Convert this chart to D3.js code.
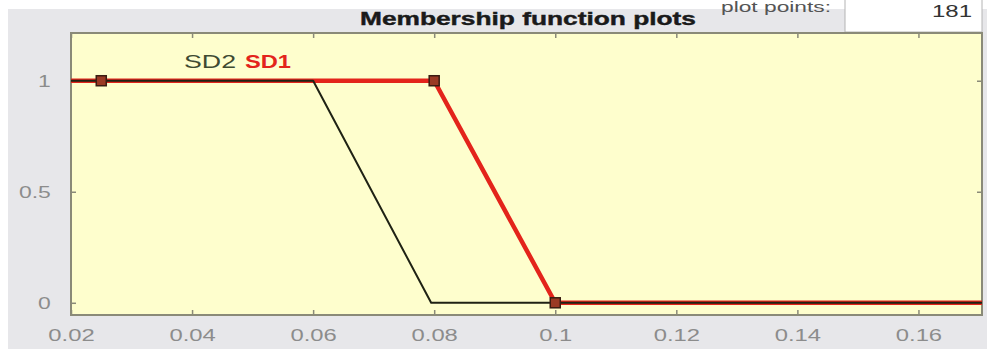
<!DOCTYPE html>
<html>
<head>
<meta charset="utf-8">
<script src="https://cdn.jsdelivr.net/npm/d3@7"></script>
<style>
  html, body { margin: 0; padding: 0; background: #ffffff; }
  svg { display: block; }
  text { font-family: "Liberation Sans", Arial, sans-serif; }
</style>
</head>
<body>
<svg id="chart" width="987" height="349"></svg>
<script>
// Membership functions of the input variable (breakpoints of each trapezoid)
const mfNames = ["SD2", "SD1"];
const sd1X = [0.02, 0.08, 0.1, 0.1705];
const sd1Y = [1, 1, 0, 0];
const sd2X = [0.02, 0.06, 0.0795, 0.1705];
const sd2Y = [1, 1, 0, 0];
// Editable vertices of the selected function (SD1)
const handleX = [0.025, 0.08, 0.1];
const handleY = [1, 1, 0];
// Axis ticks
const xTicks = [0.02, 0.04, 0.06, 0.08, 0.1, 0.12, 0.14, 0.16];
const xTickLabels = ["0.02", "0.04", "0.06", "0.08", "0.1", "0.12", "0.14", "0.16"];
const yTicks = [0, 0.5, 1];
const yTickLabels = ["0", "0.5", "1"];
const plotPoints = 181;

const svg = d3.select("#chart");
const W = 987, H = 349;
const plot = { left: 71, right: 982, top: 33, bottom: 315 };

const x = d3.scaleLinear().domain([0.02, 0.1705]).range([plot.left, plot.right]);
const y = d3.scaleLinear().domain([-0.055, 1.215]).range([plot.bottom, plot.top]);

// figure background
svg.append("rect").attr("x", 8).attr("y", 9).attr("width", W - 8).attr("height", H - 9)
  .attr("fill", "#e7e7ea");

// "plot points" field
svg.append("text").attr("x", 776).attr("y", 12).attr("text-anchor", "middle")
  .attr("font-size", 14).attr("fill", "#555")
  .attr("textLength", 110).attr("lengthAdjust", "spacingAndGlyphs")
  .text("plot points:");
svg.append("rect").attr("x", 845).attr("y", -2).attr("width", 137).attr("height", 34)
  .attr("fill", "#ffffff").attr("stroke", "#b4b4b4").attr("stroke-width", 1);
svg.append("text").attr("x", 972).attr("y", 17).attr("text-anchor", "end")
  .attr("font-size", 17).attr("fill", "#333")
  .attr("textLength", 40).attr("lengthAdjust", "spacingAndGlyphs")
  .text(plotPoints);

// title
svg.append("text").attr("x", 528).attr("y", 25).attr("text-anchor", "middle")
  .attr("font-size", 18).attr("font-weight", "bold").attr("fill", "#1a1a1a")
  .attr("stroke", "#1a1a1a").attr("stroke-width", 0.4)
  .attr("textLength", 336).attr("lengthAdjust", "spacingAndGlyphs")
  .text("Membership function plots");

// plot area
svg.append("rect").attr("x", plot.left).attr("y", plot.top)
  .attr("width", plot.right - plot.left).attr("height", plot.bottom - plot.top)
  .attr("fill", "#fefecd");

const g = svg.append("g");
const tickLen = 5;
const axisColor = "#8a8a78";
const labelColor = "#8c8c8c";

// bottom axis (ticks inward)
const bottomAxis = g.append("g").attr("transform", `translate(0,${plot.bottom})`)
  .call(d3.axisBottom(x).tickValues(xTicks).tickSize(-tickLen).tickPadding(14)
    .tickFormat((d, i) => xTickLabels[i]));
bottomAxis.selectAll("text").attr("font-size", 17).attr("fill", labelColor)
  .attr("font-family", "'Liberation Sans', Arial, sans-serif")
  .attr("dy", "0.71em")
  .attr("transform", "scale(1.4,1)");
// top axis
g.append("g").attr("transform", `translate(0,${plot.top})`)
  .call(d3.axisTop(x).tickValues(xTicks).tickSize(-tickLen).tickFormat(""));
// left axis
const leftAxis = g.append("g").attr("transform", `translate(${plot.left},0)`)
  .call(d3.axisLeft(y).tickValues(yTicks).tickSize(-tickLen).tickPadding(12)
    .tickFormat((d, i) => yTickLabels[i]));
leftAxis.selectAll("text").attr("font-size", 17).attr("fill", labelColor)
  .attr("font-family", "'Liberation Sans', Arial, sans-serif")
  .attr("transform", "translate(-4,0) scale(1.35,1)");
// right axis
g.append("g").attr("transform", `translate(${plot.right},0)`)
  .call(d3.axisRight(y).tickValues(yTicks).tickSize(-tickLen).tickFormat(""));

g.selectAll(".domain").remove();
g.selectAll(".tick line").attr("stroke", axisColor).attr("stroke-width", 1.5);

// box
svg.append("rect").attr("x", plot.left).attr("y", plot.top)
  .attr("width", plot.right - plot.left).attr("height", plot.bottom - plot.top)
  .attr("fill", "none").attr("stroke", axisColor).attr("stroke-width", 2);

const line = d3.line().x(d => x(d[0])).y(d => y(d[1]));

// selected function, thick red
svg.append("path").datum(d3.zip(sd1X, sd1Y)).attr("d", line)
  .attr("fill", "none").attr("stroke", "#e3241b").attr("stroke-width", 4.5)
  .attr("stroke-linejoin", "round");
// other function, thin dark
svg.append("path").datum(d3.zip(sd2X, sd2Y)).attr("d", line)
  .attr("fill", "none").attr("stroke", "#1f2214").attr("stroke-width", 2)
  .attr("stroke-linejoin", "round");

// vertex handles
svg.selectAll("rect.handle").data(d3.zip(handleX, handleY)).join("rect")
  .attr("class", "handle")
  .attr("x", d => x(d[0]) - 5).attr("y", d => y(d[1]) - 5)
  .attr("width", 10).attr("height", 10)
  .attr("fill", "#9a3a24").attr("stroke", "#3a1c12").attr("stroke-width", 1.5);

// function names
svg.append("text").attr("x", 210).attr("y", 68).attr("text-anchor", "middle")
  .attr("font-size", 18).attr("fill", "#3e4a32")
  .attr("textLength", 52).attr("lengthAdjust", "spacingAndGlyphs")
  .text(mfNames[0]);
svg.append("text").attr("x", 268).attr("y", 68).attr("text-anchor", "middle")
  .attr("font-size", 18).attr("font-weight", "bold").attr("fill", "#e3241b")
  .attr("textLength", 46).attr("lengthAdjust", "spacingAndGlyphs")
  .text(mfNames[1]);
</script>
</body>
</html>
